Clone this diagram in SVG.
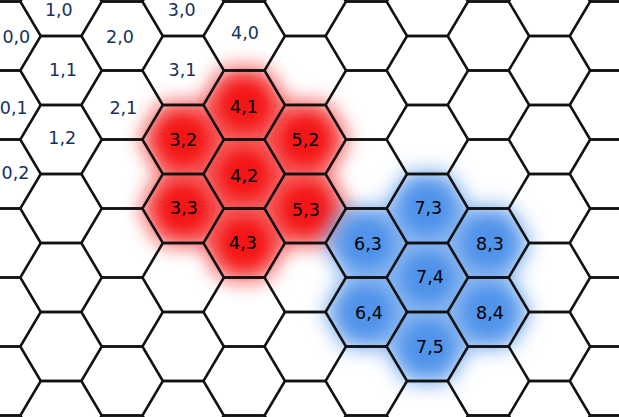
<svg xmlns="http://www.w3.org/2000/svg" xmlns:xlink="http://www.w3.org/1999/xlink" width="619" height="417" viewBox="0 0 619 417">
<defs>
<style>
.grid{fill:none;stroke:#121212;stroke-width:2.6;stroke-linejoin:miter}
.red{fill:#f41414}
.blue{fill:#4f93ea}
text{font-family:"DejaVu Sans","Liberation Sans",sans-serif;font-size:17.5px;text-anchor:middle}
.plain{fill:#15325a}
.hl{fill:#000}
</style>
<filter id="glow" x="-80%" y="-80%" width="260%" height="260%">
<feGaussianBlur stdDeviation="10.5"/>
</filter>
<path id="hex" d="M-40.7 0 L-20.35 -34.5 L20.35 -34.5 L40.7 0 L20.35 34.5 L-20.35 34.5 Z"/>
<path id="zigE" d="M-81.4 34.5 L-40.7 34.5 L-20.35 0 L20.35 0 L40.7 34.5 L81.4 34.5 L101.75 0 L142.45 0 L162.8 34.5 L203.5 34.5 L223.85 0 L264.55 0 L284.9 34.5 L325.6 34.5 L345.95 0 L386.65 0 L407 34.5 L447.7 34.5 L468.05 0 L508.75 0 L529.1 34.5 L569.8 34.5 L590.15 0 L630.85 0 L651.2 34.5 L691.9 34.5"/>
<path id="zigO" d="M-81.4 0 L-40.7 0 L-20.35 34.5 L20.35 34.5 L40.7 0 L81.4 0 L101.75 34.5 L142.45 34.5 L162.8 0 L203.5 0 L223.85 34.5 L264.55 34.5 L284.9 0 L325.6 0 L345.95 34.5 L386.65 34.5 L407 0 L447.7 0 L468.05 34.5 L508.75 34.5 L529.1 0 L569.8 0 L590.15 34.5 L630.85 34.5 L651.2 0 L691.9 0"/>
</defs>
<rect width="619" height="417" fill="#ffffff"/>
<g id="highlights">
<g id="red-area" class="red">
<use xlink:href="#hex" href="#hex" x="244.2" y="105" filter="url(#glow)"/>
<use xlink:href="#hex" href="#hex" x="183.15" y="139.5" filter="url(#glow)"/>
<use xlink:href="#hex" href="#hex" x="305.25" y="139.5" filter="url(#glow)"/>
<use xlink:href="#hex" href="#hex" x="244.2" y="174" filter="url(#glow)"/>
<use xlink:href="#hex" href="#hex" x="183.15" y="208.5" filter="url(#glow)"/>
<use xlink:href="#hex" href="#hex" x="305.25" y="208.5" filter="url(#glow)"/>
<use xlink:href="#hex" href="#hex" x="244.2" y="243" filter="url(#glow)"/>
</g>
<g id="blue-area" class="blue">
<use xlink:href="#hex" href="#hex" x="427.35" y="208.5" filter="url(#glow)"/>
<use xlink:href="#hex" href="#hex" x="366.3" y="243" filter="url(#glow)"/>
<use xlink:href="#hex" href="#hex" x="488.4" y="243" filter="url(#glow)"/>
<use xlink:href="#hex" href="#hex" x="427.35" y="277.5" filter="url(#glow)"/>
<use xlink:href="#hex" href="#hex" x="366.3" y="312" filter="url(#glow)"/>
<use xlink:href="#hex" href="#hex" x="488.4" y="312" filter="url(#glow)"/>
<use xlink:href="#hex" href="#hex" x="427.35" y="346.5" filter="url(#glow)"/>
</g>
</g>
<g id="grid" class="grid">
<use xlink:href="#zigO" href="#zigO" y="-33"/>
<use xlink:href="#zigE" href="#zigE" y="1.5"/>
<use xlink:href="#zigO" href="#zigO" y="36"/>
<use xlink:href="#zigE" href="#zigE" y="70.5"/>
<use xlink:href="#zigO" href="#zigO" y="105"/>
<use xlink:href="#zigE" href="#zigE" y="139.5"/>
<use xlink:href="#zigO" href="#zigO" y="174"/>
<use xlink:href="#zigE" href="#zigE" y="208.5"/>
<use xlink:href="#zigO" href="#zigO" y="243"/>
<use xlink:href="#zigE" href="#zigE" y="277.5"/>
<use xlink:href="#zigO" href="#zigO" y="312"/>
<use xlink:href="#zigE" href="#zigE" y="346.5"/>
<use xlink:href="#zigO" href="#zigO" y="381"/>
<use xlink:href="#zigE" href="#zigE" y="415.5"/>
</g>
<g id="labels">
<g id="hex-0-0"><text class="plain" x="16.3" y="43.3">0,0</text></g>
<g id="hex-1-0"><text class="plain" x="58.8" y="15.8">1,0</text></g>
<g id="hex-2-0"><text class="plain" x="120" y="43.3">2,0</text></g>
<g id="hex-3-0"><text class="plain" x="181.7" y="15.8">3,0</text></g>
<g id="hex-4-0"><text class="plain" x="245" y="39.3">4,0</text></g>
<g id="hex-0-1"><text class="plain" x="13.7" y="114.3">0,1</text></g>
<g id="hex-1-1"><text class="plain" x="63" y="76.3">1,1</text></g>
<g id="hex-2-1"><text class="plain" x="123.3" y="114.3">2,1</text></g>
<g id="hex-3-1"><text class="plain" x="182.5" y="76.3">3,1</text></g>
<g id="hex-4-1"><text class="hl" x="244" y="112.5">4,1</text></g>
<g id="hex-0-2"><text class="plain" x="15.5" y="179.1">0,2</text></g>
<g id="hex-1-2"><text class="plain" x="62.2" y="144">1,2</text></g>
<g id="hex-3-2"><text class="hl" x="183.3" y="146">3,2</text></g>
<g id="hex-4-2"><text class="hl" x="244.2" y="182.3">4,2</text></g>
<g id="hex-5-2"><text class="hl" x="305.5" y="146">5,2</text></g>
<g id="hex-3-3"><text class="hl" x="184" y="214.1">3,3</text></g>
<g id="hex-4-3"><text class="hl" x="243" y="249.3">4,3</text></g>
<g id="hex-5-3"><text class="hl" x="306" y="216">5,3</text></g>
<g id="hex-6-3"><text class="hl" x="368" y="250.3">6,3</text></g>
<g id="hex-7-3"><text class="hl" x="428.3" y="214.3">7,3</text></g>
<g id="hex-8-3"><text class="hl" x="490" y="250">8,3</text></g>
<g id="hex-6-4"><text class="hl" x="369" y="319">6,4</text></g>
<g id="hex-7-4"><text class="hl" x="430" y="283.3">7,4</text></g>
<g id="hex-8-4"><text class="hl" x="490" y="319.3">8,4</text></g>
<g id="hex-7-5"><text class="hl" x="430" y="352.6">7,5</text></g>
</g>
</svg>
